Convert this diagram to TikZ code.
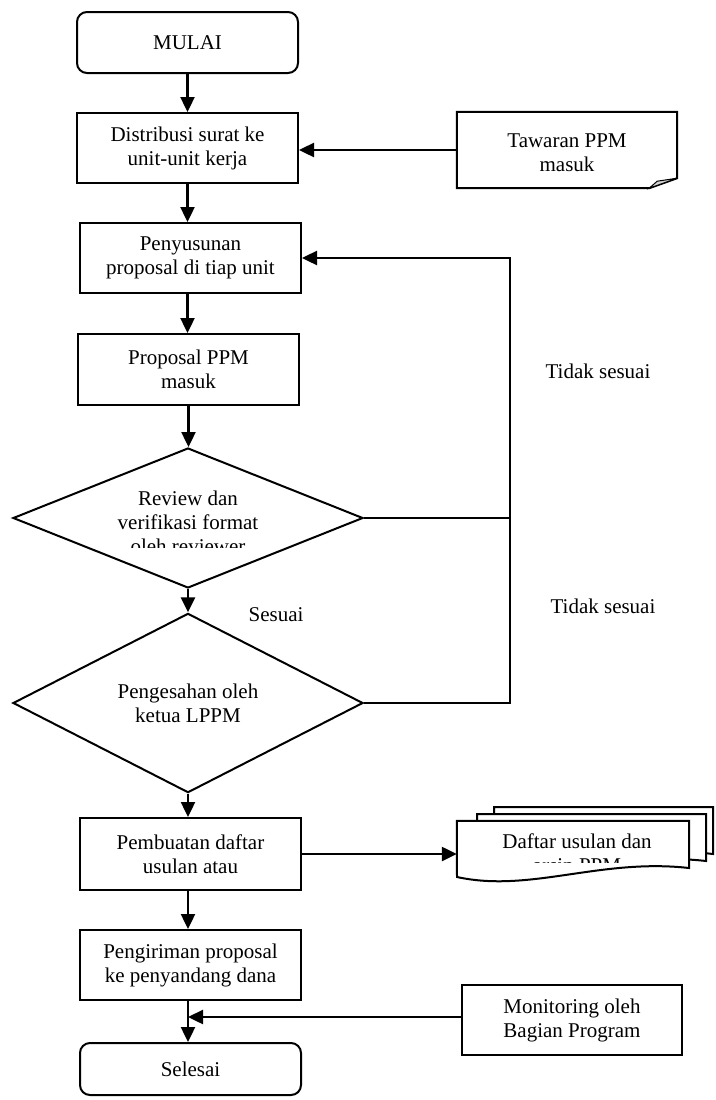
\documentclass[tikz,border=0pt]{standalone}
\usepackage{fontspec}
\setmainfont{Liberation Serif}
\usetikzlibrary{shapes.geometric,arrows.meta,calc}
\begin{document}
\begin{tikzpicture}[x=1pt,y=-1pt,
  every node/.style={font=\fontsize{21}{24}\selectfont},
  proc/.style={draw,line width=2pt,minimum width=221pt,inner sep=0pt,align=center},
  term/.style={proc,rounded corners=10pt},
  decide/.style={draw,diamond,line width=2pt,inner sep=0pt,minimum width=350pt,align=center},
  flow/.style={line width=2.4pt,-{Triangle[length=15pt,width=14pt]}},
  plain/.style={line width=2pt},
  paper/.style={plain,fill=white},
  lbl/.style={inner sep=0pt,align=center}
]
\useasboundingbox (0,0) rectangle (715,1100);

% main column
\node[term,minimum height=61pt] (start) at (187.5,42.5) {MULAI};
\node[proc,minimum height=70pt] (dist) at (187.5,148) {Distribusi surat ke\\unit-unit kerja};
\node[proc,minimum height=70pt] (pen) at (190.5,258) {Penyusunan\\proposal di tiap unit};
\node[proc,minimum height=71pt] (prop) at (188.5,369.5) {Proposal PPM\\masuk};
\node[decide,minimum height=140pt] (rev) at (188,518) {};
\node[decide,minimum height=146pt] (sah) at (188,703) {Pengesahan oleh\\ketua LPPM};
\node[proc,minimum height=72pt] (buat) at (190.5,854) {Pembuatan daftar\\usulan atau};
\node[proc,minimum height=70pt] (kirim) at (190.5,965) {Pengiriman proposal\\ke penyandang dana};
\node[term,minimum height=52pt] (end) at (190.5,1069) {Selesai};

% decision text, cut off at the bottom
\begin{scope}
  \clip (13,440) rectangle (363,547);
  \node[lbl] (revtext) at (188,522) {Review dan\\verifikasi format\\oleh reviewer};
\end{scope}

% incoming offer document with folded corner
\node[minimum width=220pt,minimum height=76pt,inner sep=0pt] (taw) at (567,150) {};
\draw[plain] (taw.north west) -- (taw.north east) -- ($(taw.south east)+(0,-10)$)
  -- ($(taw.south east)+(-28,0)$) -- (taw.south west) -- cycle;
\filldraw[plain,fill=gray!35,line width=1pt] ($(taw.south east)+(-28,0)$) -- ($(taw.south east)+(-20,-7)$)
  -- ($(taw.south east)+(0,-10)$) -- cycle;
\begin{scope}
  \clip (457,100) rectangle (677,171);
  \node[lbl] (tawtext) at (567,153) {Tawaran PPM\\masuk};
\end{scope}

% stack of documents
\node[minimum width=232pt,minimum height=57pt,inner sep=0pt] (doc) at (573,849.5) {};
\filldraw[paper] (494,807) -- (713,807) -- (713,854) .. controls (630,844) and (560,879) .. (494,863) -- cycle;
\filldraw[paper] (477,814) -- (706,814) -- (706,861) .. controls (620,851) and (550,886) .. (477,870) -- cycle;
\filldraw[paper] (doc.north west) -- (doc.north east) -- (689,868) .. controls (600,858) and (530,893) .. (457,877) -- cycle;
\begin{scope}
  \clip (457,821) rectangle (689,862);
  \node[lbl] (doctext) at (577,855) {Daftar usulan dan\\arsip PPM};
\end{scope}

% monitoring
\node[proc,minimum width=220pt,minimum height=70pt] (mon) at (572,1020) {Monitoring oleh\\Bagian Program};

% main flow
\draw[flow] (start.south) -- (start.south |- dist.north);
\draw[flow] (dist.south) -- (dist.south |- pen.north);
\draw[flow] (pen.south -| dist.south) -- (dist.south |- prop.north);
\draw[flow] (prop.south) -- (prop.south |- rev.north);
\draw[flow] (rev.south) -- (sah.north);
\draw[flow] (sah.south) -- (sah.south |- buat.north);
\draw[flow] (buat.south -| sah.south) -- (sah.south |- kirim.north);
\draw[flow] (kirim.south -| sah.south) -- (sah.south |- end.north);

% side inputs and outputs
\draw[flow] (taw.west) -- (taw.west -| dist.east);
\draw[flow] (buat.east) -- (buat.east -| doc.west);
\coordinate (join) at (188,1017);
\draw[flow] (mon.west |- join) -- (join);

% rejection loop
\coordinate (fb) at (510,703);
\draw[flow] (sah.east) -- (fb) |- (pen.east);
\draw[plain] (rev.east) -- (rev.east -| fb);

% labels
\node[lbl] (ok) at (276,615) {Sesuai};
\node[lbl] (no1) at (598,371) {Tidak sesuai};
\node[lbl] (no2) at (603,606) {Tidak sesuai};
\end{tikzpicture}
\end{document}
